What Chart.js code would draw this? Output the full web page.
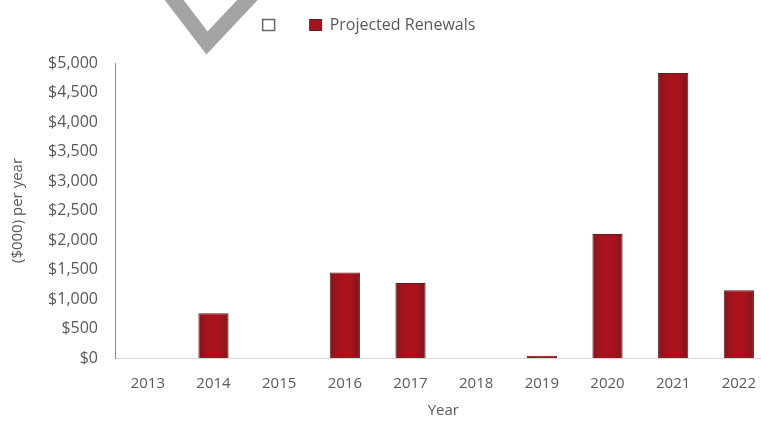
<!DOCTYPE html>
<html>
<head>
<meta charset="utf-8">
<script src="https://cdn.jsdelivr.net/npm/chart.js@4.4.1/dist/chart.umd.min.js"></script>
<style>
  html, body { margin: 0; padding: 0; background: #fff; overflow: hidden; }
  #wrap { width: 773px; height: 421px; }
</style>
</head>
<body>
<div id="wrap"><canvas id="mycanvas"></canvas></div>
<script>
// renewals by year, in $000
var years = ['2013', '2014', '2015', '2016', '2017', '2018', '2019', '2020', '2021', '2022'];
var renewals = [0, 760, 0, 1450, 1270, 0, 40, 2100, 4830, 1150];
var yTicks = [0, 500, 1000, 1500, 2000, 2500, 3000, 3500, 4000, 4500, 5000];

var textColor = '#595959';
var fontFamily = '"Open Sans", sans-serif';
var barRed = '#a3141e';

// grey check stroke in the top corner
var checkMark = {
  id: 'checkMark',
  beforeDraw: function(chart) {
    var c = chart.ctx;
    c.save();
    c.strokeStyle = '#a4a4a4';
    c.lineWidth = 15;
    c.lineJoin = 'miter';
    c.beginPath();
    c.moveTo(168, -8);
    c.lineTo(207, 43);
    c.lineTo(255, -8);
    c.stroke();
    c.restore();
  }
};

// legend: fixed block height, items nudged up/left
var legendTweak = {
  id: 'legendTweak',
  afterInit: function(chart) {
    var lg = chart.legend;
    var fit = lg.fit;
    lg.fit = function() {
      fit.call(this);
      this.height = 63;
    };
    var draw = lg.draw;
    lg.draw = function() {
      var t = this.top, l = this.left, r = this.right;
      this.top = t - 10; this.left = l - 22; this.right = r - 22;
      draw.apply(this, arguments);
      this.top = t; this.left = l; this.right = r;
    };
  }
};

// darker at the bar edges, brighter in the middle
function barFill(context) {
  var chart = context.chart;
  var xs = chart.scales && chart.scales.x;
  if (!xs || context.dataIndex === undefined) return barRed;
  var cx = xs.getPixelForValue(context.dataIndex);
  if (!isFinite(cx)) return barRed;
  var g = chart.ctx.createLinearGradient(cx - 15, 0, cx + 15, 0);
  g.addColorStop(0, '#80161b');
  g.addColorStop(0.25, '#a2131d');
  g.addColorStop(0.5, '#ad121c');
  g.addColorStop(0.75, '#a2131d');
  g.addColorStop(1, '#80161b');
  return g;
}

var ctx = document.getElementById('mycanvas');

var chartdata = {
  labels: years,
  datasets: [
    {
      label: 'Projected Renewals',
      data: renewals,
      backgroundColor: barFill,
      borderColor: '#5e1a1e',
      borderWidth: 1,
      barPercentage: 0.46,
      categoryPercentage: 1
    }
  ]
};

var barGraph = new Chart(ctx, {
  type: 'bar',
  data: chartdata,
  plugins: [checkMark, legendTweak],
  options: {
    responsive: true,
    maintainAspectRatio: false,
    animation: false,
    layout: {
      padding: { left: 9, right: 0, top: 0, bottom: 1 }
    },
    plugins: {
      tooltip: { enabled: false },
      legend: {
        position: 'top',
        labels: {
          color: textColor,
          font: { family: fontFamily, size: 16 },
          boxWidth: 12,
          boxHeight: 11,
          padding: 27,
          generateLabels: function(chart) {
            var items = Chart.defaults.plugins.legend.labels.generateLabels(chart);
            items[0].fillStyle = barRed;
            items[0].strokeStyle = '#5e1a1e';
            items.unshift({
              text: '',
              fillStyle: '#ffffff',
              strokeStyle: '#666666',
              lineWidth: 1.5,
              hidden: false,
              datasetIndex: -1
            });
            return items;
          }
        }
      }
    },
    scales: {
      x: {
        afterFit: function(axis) {
          axis.height = 62;
        },
        grid: { display: false, drawTicks: false },
        border: { display: true, color: '#d9d9d9', width: 1 },
        ticks: {
          color: textColor,
          font: { family: fontFamily, size: 15 },
          padding: 17,
          maxRotation: 0
        },
        title: {
          display: true,
          text: 'Year',
          color: textColor,
          font: { family: fontFamily, size: 15 },
          padding: { top: 0, bottom: 0 }
        }
      },
      y: {
        min: 0,
        max: 5000,
        afterBuildTicks: function(axis) {
          axis.ticks = yTicks.map(function(v) { return { value: v }; });
        },
        afterFit: function(axis) {
          axis.width = 106;
        },
        grid: { display: false, drawTicks: false },
        border: { display: true, color: '#8c8c8c', width: 1 },
        ticks: {
          color: textColor,
          font: { family: fontFamily, size: 16 },
          padding: 17,
          callback: function(v) { return '$' + v.toLocaleString('en-US'); }
        },
        title: {
          display: true,
          text: '($000) per year',
          color: textColor,
          font: { family: fontFamily, size: 15 },
          padding: { top: 0, bottom: 8 }
        }
      }
    }
  }
});
</script>
</body>
</html>
